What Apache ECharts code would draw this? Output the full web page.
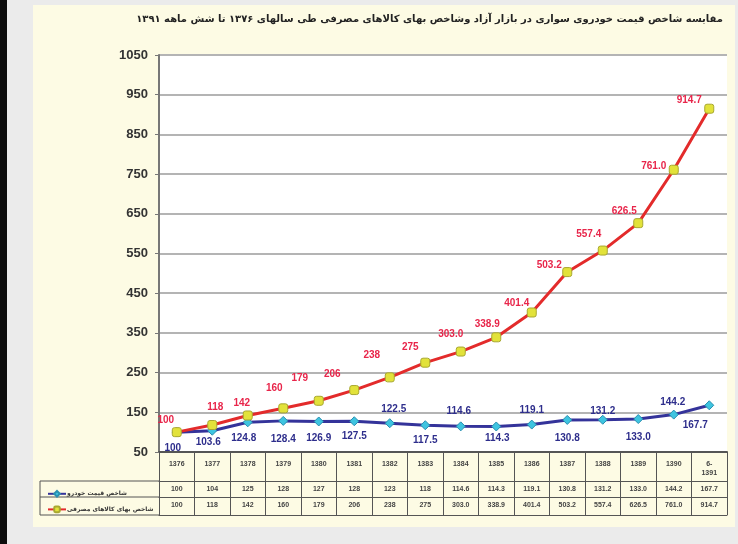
<!DOCTYPE html>
<html>
<head>
<meta charset="utf-8">
<script src="https://cdn.jsdelivr.net/npm/echarts@6/dist/echarts.min.js"></script>
<style>
  html, body {margin: 0; padding: 0; background: #ebebeb;}
  #wrap {position: relative; width: 738px; height: 544px; overflow: hidden;}
  #strip {position: absolute; left: 0; top: 0; width: 7px; height: 544px; background: #0c0c0c;}
  #panel {position: absolute; left: 33px; top: 5px; width: 702px; height: 522px; background: #fdfbe4;}
  #chart {position: absolute; left: 0; top: 0; width: 738px; height: 544px;}
</style>
</head>
<body>
<div id="wrap"><div id="strip"></div><div id="panel"></div><div id="chart"></div></div>
<script>
// سال ها
const years = ['1376', '1377', '1378', '1379', '1380', '1381', '1382', '1383', '1384', '1385',
  '1386', '1387', '1388', '1389', '1390', '6-\n1391']
// شاخص قیمت خودرو
const carIndex = [100, 103.6, 124.8, 128.4, 126.9, 127.5, 122.5, 117.5, 114.6, 114.3,
  119.1, 130.8, 131.2, 133.0, 144.2, 167.7]
// شاخص بهای کالاهای مصرفی
const cpiIndex = [100, 118, 142, 160, 179, 206, 238, 275, 303.0, 338.9,
  401.4, 503.2, 557.4, 626.5, 761.0, 914.7]
const yMin = 50
const yMax = 1050
const yStep = 100

const carName = 'شاخص قیمت خودرو'
const cpiName = 'شاخص بهای کالاهای مصرفی'
const titleText = 'مقایسه شاخص قیمت خودروی سواری در بازار آزاد وشاخص بهای کالاهای مصرفی طی سالهای ۱۳۷۶ تا شش ماهه ۱۳۹۱'

// label offsets (px) around each point
const carLabelOff = [[-4, 16], [-4, 12], [-4, 16], [0, 18], [0, 17], [0, 15], [4, -14], [0, 15],
  [-2, -15], [1, 12], [0, -14], [0, 18], [0, -9], [0, 18], [-1, -12], [-14, 20]]
const cpiLabelOff = [[-11, -12], [3, -18], [-6, -12], [-9, -20], [-19, -23], [-22, -16], [-18, -22], [-15, -15],
  [-10, -17], [-9, -13], [-15, -9], [-18, -7], [-14, -16], [-14, -12], [-20, -3], [-20, -8]]

const numFont = 'Liberation Sans'
const tableFmt = (arr) => (v, i) => i < 8 ? String(Math.round(arr[i])) : arr[i].toFixed(1)

const chart = echarts.init(document.getElementById('chart'), null, {renderer: 'canvas'})

const buildSeries = (name, values, offs, lineColor, labelColor, symbol, symColor, symBorder, fmt) => ({
  name,
  type: 'line',
  data: values.map((v, i) => ({
    value: v,
    label: {offset: offs[i]}
  })),
  symbol,
  symbolSize: 9,
  lineStyle: {color: lineColor, width: 3},
  itemStyle: {color: symColor, borderColor: symBorder, borderWidth: 1},
  label: {
    show: true,
    position: 'inside',
    color: labelColor,
    fontFamily: numFont,
    fontWeight: 'bold',
    fontSize: 10,
    formatter: (p) => fmt(p.value, p.dataIndex)
  },
  emphasis: {disabled: true},
  animation: false
})

const rowAxis = (offset, fmt) => ({
  type: 'category',
  data: years,
  position: 'bottom',
  offset,
  axisLine: {show: true, lineStyle: {color: '#555', width: 1}},
  axisTick: {show: false},
  axisLabel: {
    show: !!fmt,
    interval: 0,
    margin: 5,
    fontSize: 7,
    fontFamily: numFont,
    fontWeight: 'bold',
    color: '#444',
    formatter: fmt || undefined
  }
})

const gLine = (x1, y1, x2, y2) => ({
  type: 'line',
  shape: {x1, y1, x2, y2},
  style: {stroke: '#555', lineWidth: 1},
  silent: true
})

const option = {
  backgroundColor: 'transparent',
  title: {
    text: titleText,
    right: 10,
    top: 9,
    textStyle: {fontFamily: 'DejaVu Sans', fontSize: 10, fontWeight: 'bold', color: '#222'}
  },
  grid: {
    left: 159, right: 11, top: 55, bottom: 92,
    show: true, backgroundColor: '#ffffff', borderWidth: 0,
    containLabel: false
  },
  legend: {
    orient: 'vertical',
    left: 42,
    top: 485,
    itemGap: 8,
    itemWidth: 18,
    itemHeight: 7,
    data: [carName, cpiName],
    textStyle: {fontFamily: 'DejaVu Sans', fontSize: 6, fontWeight: 'bold', color: '#333', padding: [0, 0, 0, -4]}
  },
  xAxis: [
    {
      type: 'category',
      data: years,
      position: 'bottom',
      boundaryGap: true,
      axisLine: {show: true, lineStyle: {color: '#555', width: 2}},
      axisTick: {show: true, interval: 0, length: 63, lineStyle: {color: '#555', width: 1}},
      axisLabel: {interval: 0, margin: 8, fontSize: 7, fontFamily: numFont, fontWeight: 'bold', color: '#444', lineHeight: 9},
      splitLine: {show: false}
    },
    rowAxis(29, tableFmt(carIndex)),
    rowAxis(45, tableFmt(cpiIndex)),
    rowAxis(63, null)
  ],
  yAxis: {
    type: 'value',
    min: yMin,
    max: yMax,
    interval: yStep,
    axisLine: {show: true, lineStyle: {color: '#777', width: 2}},
    axisTick: {show: true, length: 4, lineStyle: {color: '#777'}},
    axisLabel: {
      fontFamily: numFont, fontWeight: 'bold', fontSize: 13, color: '#333', margin: 11,
      formatter: (v) => String(v)
    },
    splitLine: {show: true, lineStyle: {color: '#b4b4b4', width: 2}}
  },
  graphic: [
    gLine(40, 481, 159, 481),
    gLine(40, 497, 159, 497),
    gLine(40, 515, 159, 515),
    gLine(40, 481, 40, 515)
  ],
  series: [
    buildSeries(carName, carIndex, carLabelOff, '#34339a', '#2e2e8c', 'diamond', '#3ec4e0', '#2a8fb0',
      (v, i) => i === 0 ? '100' : v.toFixed(1)),
    buildSeries(cpiName, cpiIndex, cpiLabelOff, '#e32b2b', '#e8254a', 'roundRect', '#e2e23a', '#a8a830',
      (v, i) => i < 8 ? String(Math.round(v)) : v.toFixed(1))
  ]
}

chart.setOption(option)
window.addEventListener('resize', () => chart.resize())
</script>
</body>
</html>
